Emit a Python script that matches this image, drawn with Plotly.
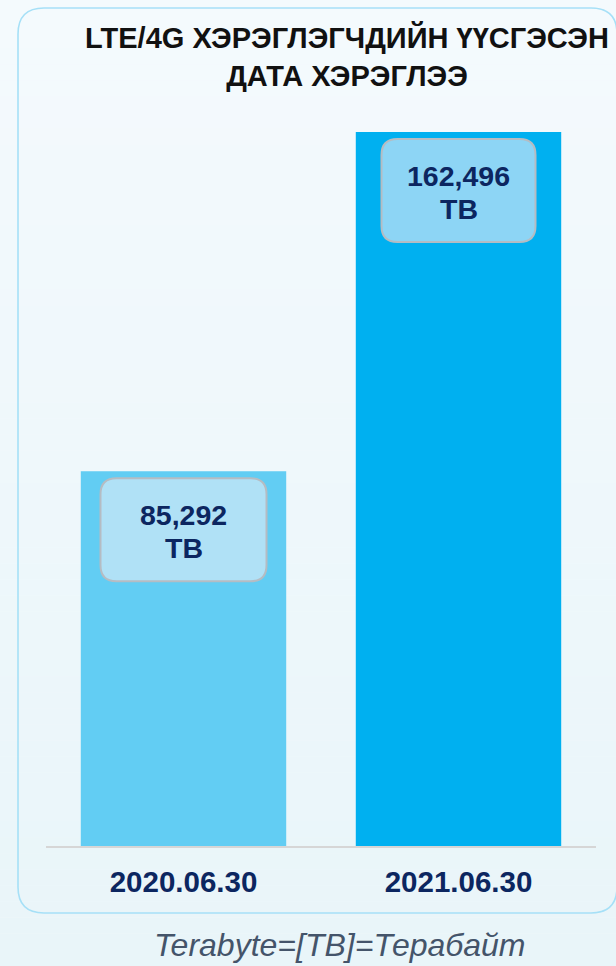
import plotly.graph_objects as go

# ---- data ----
categories = ["2020.06.30", "2021.06.30"]
values_tb = [85292, 162496]
unit_label = "TB"
title_lines = ["LTE/4G ХЭРЭГЛЭГЧДИЙН ҮҮСГЭСЭН", "ДАТА ХЭРЭГЛЭЭ"]
footnote = "Terabyte=[TB]=Терабайт"

# ---- style ----
W, H = 616, 966
bar_colors = ["#62cdf3", "#00b0f0"]
box_fills = ["#b0e1f6", "#8dd5f5"]
box_half_widths = [83, 77]
navy = "#0c2660"
FONT = "Arial, Liberation Sans, sans-serif"

def px_x(x):
    return x / W

def px_y(y):
    return 1 - y / H

plot_left, plot_right = 46, 596
plot_bottom, plot_top = 846, 132

fig = go.Figure()
fig.add_trace(go.Bar(
    x=categories, y=values_tb,
    marker=dict(color=bar_colors, line=dict(width=0)),
    hoverinfo="skip", showlegend=False,
))

shapes = []
# background gradient bands
n = 60
c0 = (0xf4, 0xfa, 0xfd)
c1 = (0xe9, 0xf5, 0xf9)
for i in range(n):
    t = i / (n - 1)
    col = tuple(round(c0[k] + (c1[k] - c0[k]) * t) for k in range(3))
    shapes.append(dict(type="rect", xref="paper", yref="paper", layer="below",
                       x0=0, x1=1, y0=1 - (i + 1) / n, y1=1 - i / n,
                       line=dict(width=0), fillcolor="rgb(%d,%d,%d)" % col))

# card outline (rounded)
def rounded_path(x0, y0, x1, y1, r):
    X = px_x
    Y = px_y
    return ("M {a},{b} L {c},{b} Q {d},{b} {d},{e} L {d},{f} Q {d},{g} {c},{g} "
            "L {a},{g} Q {h},{g} {h},{f} L {h},{e} Q {h},{b} {a},{b} Z").format(
        a=X(x0 + r), b=Y(y0), c=X(x1 - r), d=X(x1), e=Y(y0 + r),
        f=Y(y1 - r), g=Y(y1), h=X(x0))

shapes.append(dict(type="path", xref="paper", yref="paper", layer="below",
                   path=rounded_path(18, 8, 617, 913, 26),
                   line=dict(color="#a6e0f7", width=1.6), fillcolor="rgba(0,0,0,0)"))

# value label boxes, anchored at bar tops, sized in pixels
for i, (cat, v) in enumerate(zip(categories, values_tb)):
    hw = box_half_widths[i]
    top, bot, r = -7, -110, 16
    path = ("M {a},{t} L {b},{t} Q {hw},{t} {hw},{t2} L {hw},{b2} Q {hw},{bo} {b},{bo} "
            "L {a},{bo} Q {nhw},{bo} {nhw},{b2} L {nhw},{t2} Q {nhw},{t} {a},{t} Z").format(
        a=-hw + r, b=hw - r, hw=hw, nhw=-hw, t=top, t2=top - r, b2=bot + r, bo=bot)
    shapes.append(dict(type="path", xref="x", yref="y", xsizemode="pixel", ysizemode="pixel",
                       xanchor=i, yanchor=v, path=path,
                       fillcolor=box_fills[i], line=dict(color="#b5bcc3", width=2)))

annotations = []
for i, (cat, v) in enumerate(zip(categories, values_tb)):
    annotations.append(dict(x=cat, y=v, xref="x", yref="y", yanchor="middle",
                            yshift=-44, showarrow=False,
                            text="<b>{:,}</b>".format(v),
                            font=dict(family=FONT, size=28.5, color=navy)))
    annotations.append(dict(x=cat, y=v, xref="x", yref="y", yanchor="middle",
                            yshift=-77, showarrow=False,
                            text="<b>{}</b>".format(unit_label),
                            font=dict(family=FONT, size=28.5, color=navy)))

annotations.append(dict(x=px_x(347), y=px_y(57), xref="paper", yref="paper",
                        showarrow=False, yanchor="middle",
                        text="<b>" + "<br>".join(title_lines) + "</b>",
                        font=dict(family=FONT, size=29, color="#111111")))
annotations.append(dict(x=px_x(340), y=px_y(945), xref="paper", yref="paper",
                        showarrow=False, yanchor="middle",
                        text="<i>" + footnote + "</i>",
                        font=dict(family=FONT, size=32, color="#44546a")))

fig.update_layout(
    width=W, height=H,
    margin=dict(l=0, r=0, t=0, b=0),
    paper_bgcolor="#f1f9fc", plot_bgcolor="rgba(0,0,0,0)",
    bargap=0.253,
    shapes=shapes, annotations=annotations,
    xaxis=dict(domain=[px_x(plot_left), px_x(plot_right)], showline=True,
               linecolor="#d6d6d6", linewidth=2, showgrid=False, ticks="",
               tickfont=dict(family=FONT, size=29.5, color=navy),
               ticklabelstandoff=9, fixedrange=True),
    yaxis=dict(domain=[px_y(plot_bottom), px_y(plot_top)], range=[0, max(values_tb)],
               visible=False, fixedrange=True),
    font=dict(family=FONT),
)
fig.update_xaxes(tickvals=categories, ticktext=["<b>%s</b>" % c for c in categories])

fig.write_html(
    "out.html",
    config={"displayModeBar": False},
    post_script="document.body.style.margin='0';document.body.style.overflow='hidden';",
)
